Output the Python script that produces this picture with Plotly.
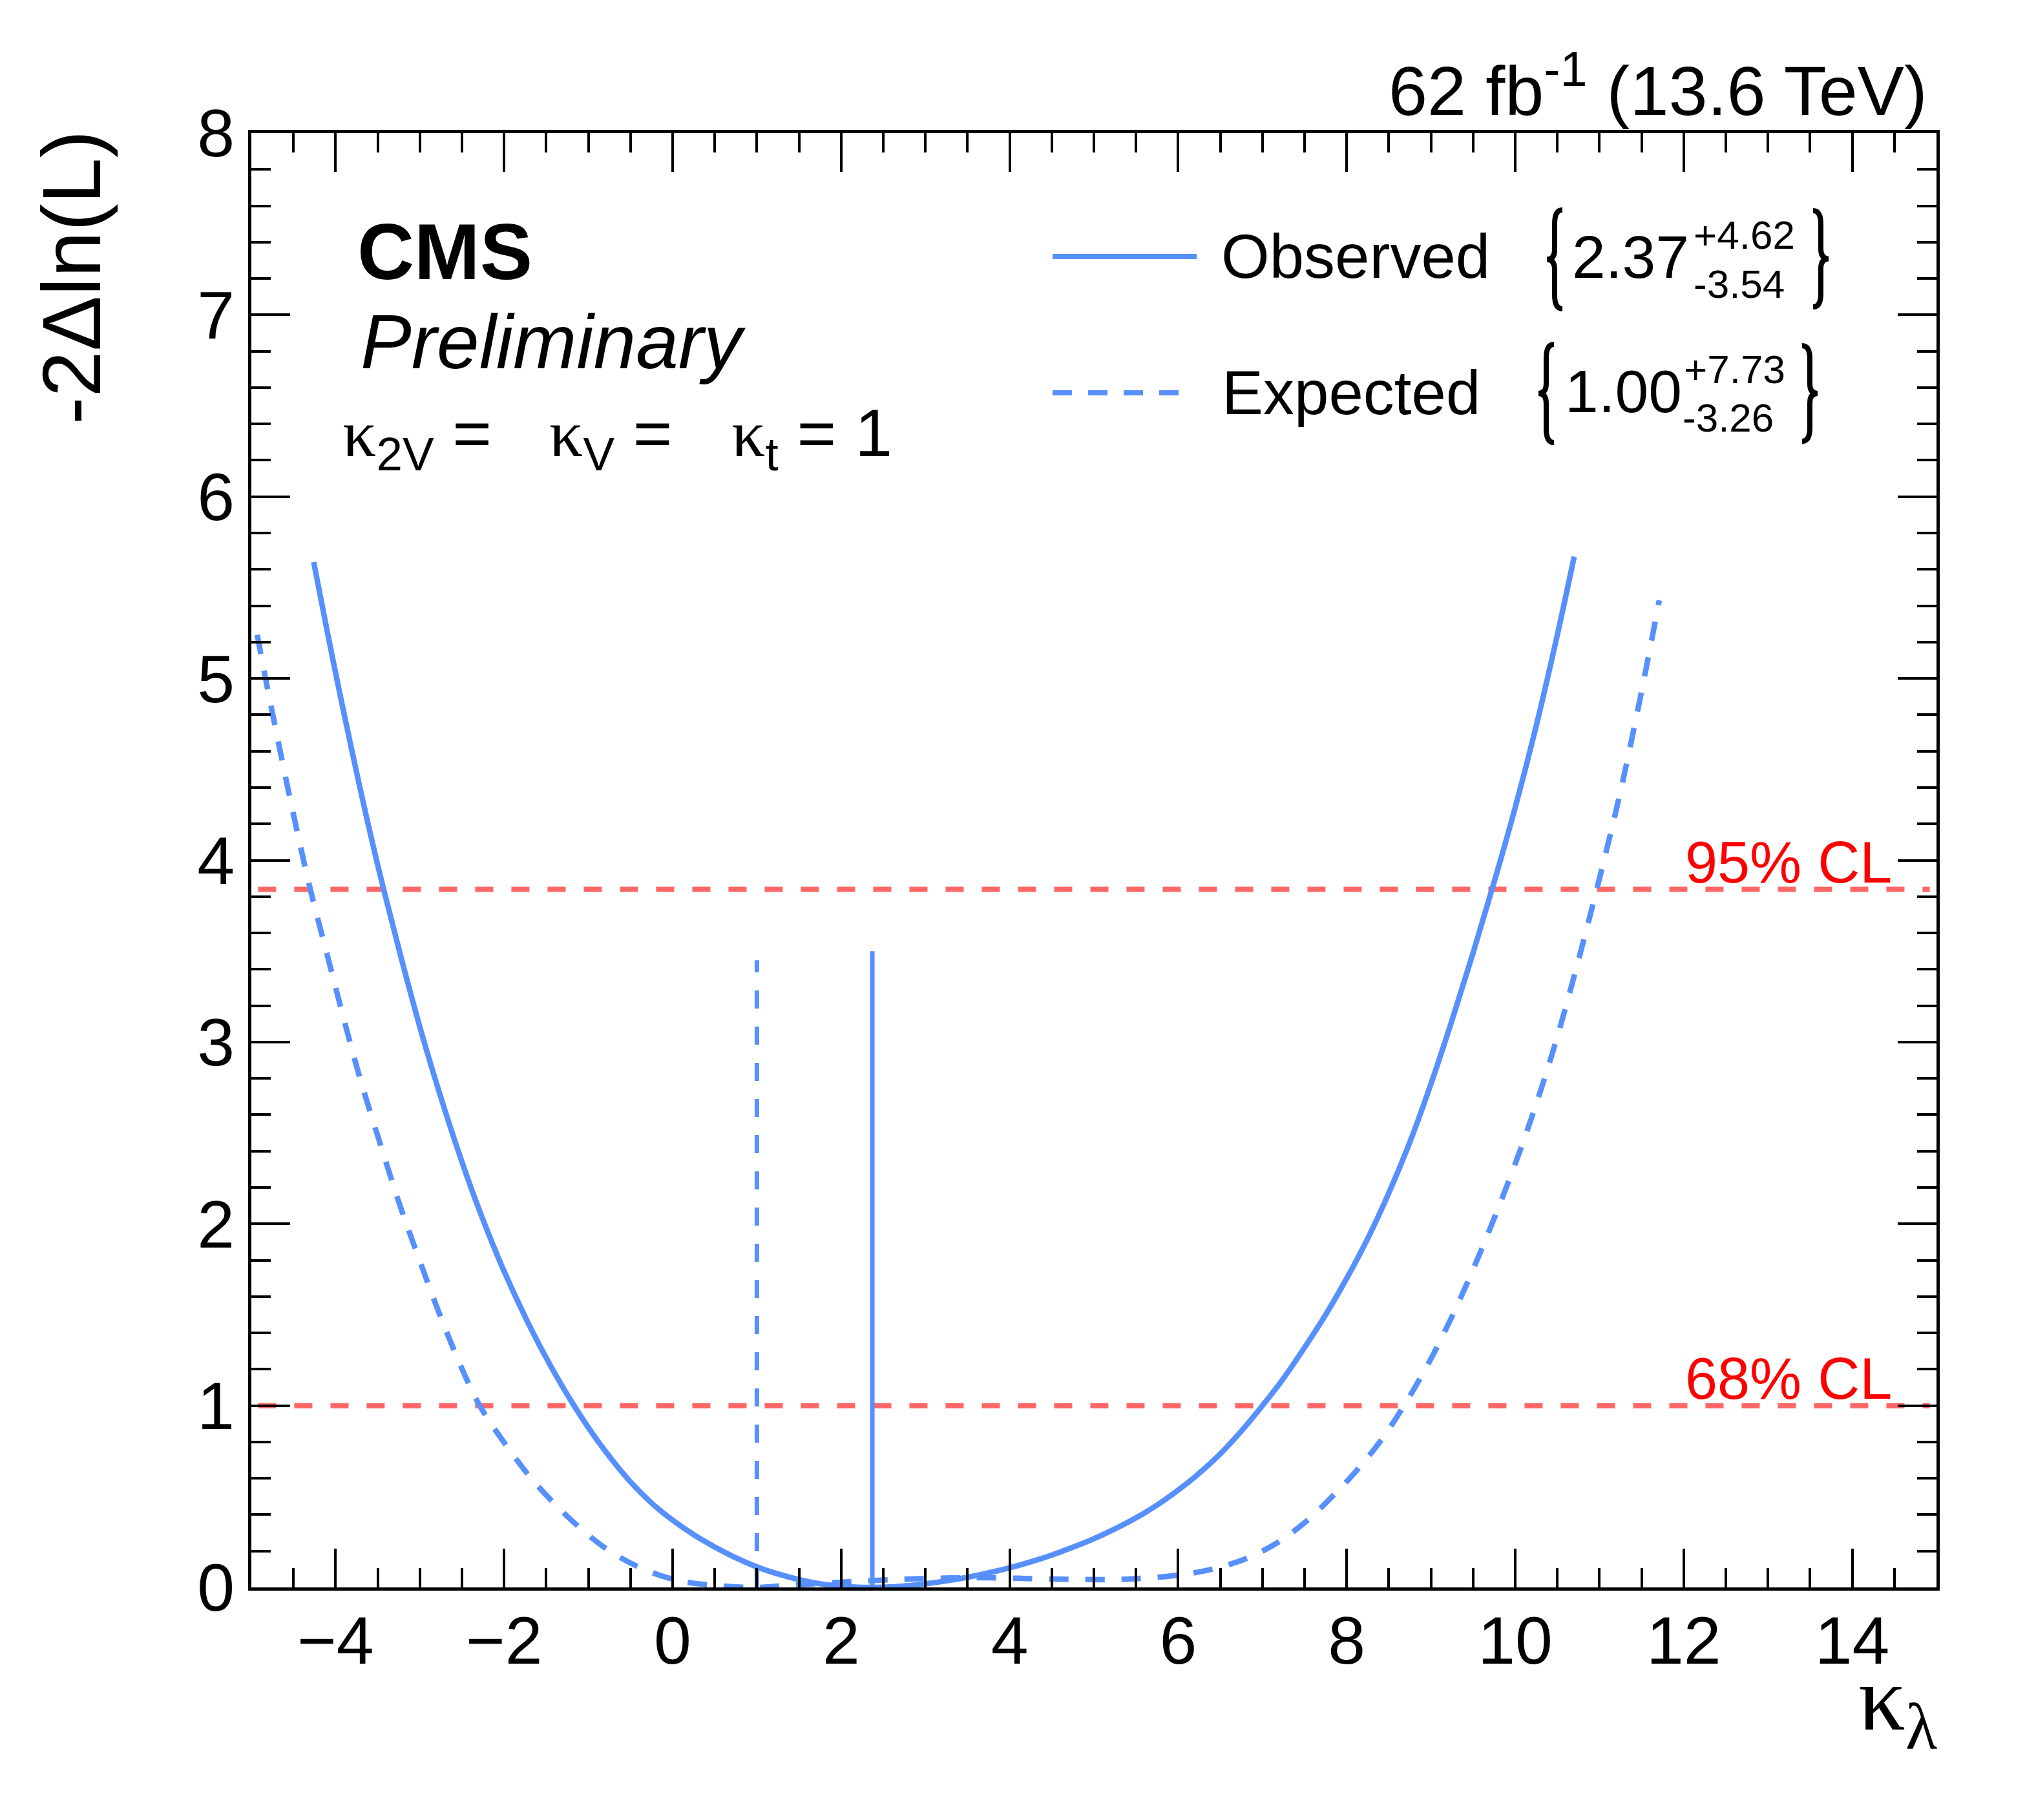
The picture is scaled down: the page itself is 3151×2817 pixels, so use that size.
import plotly.graph_objects as go

# likelihood scan, kappa_lambda
obs_x = [-4.26, -4.10, -3.96, -3.81, -3.61, -3.43, -3.22, -2.98, -2.74, -2.50,
         -2.29, -2.02, -1.71, -1.45, -1.17, -0.88, -0.49, -0.24, 0.00, 0.25,
         0.49, 0.75, 1.00, 1.25, 1.50, 1.75, 2.00, 2.20, 2.37, 2.60, 2.83,
         3.00, 3.25, 3.50, 3.75, 4.00, 4.25, 4.50, 4.75, 5.00, 5.25, 5.50,
         5.75, 6.00, 6.25, 6.50, 6.75, 7.00, 7.25, 7.50, 7.75, 8.00, 8.25,
         8.50, 8.75, 9.00, 9.25, 9.50, 9.75, 10.00, 10.25, 10.50, 10.70]
obs_y = [5.64, 5.26, 4.94, 4.61, 4.19, 3.84, 3.46, 3.05, 2.68, 2.34,
         2.07, 1.76, 1.45, 1.22, 1.00, 0.80, 0.575, 0.46, 0.37, 0.29,
         0.225, 0.163, 0.113, 0.074, 0.043, 0.020, 0.007, 0.001, 0.0, 0.003, 0.011,
         0.02, 0.036, 0.056, 0.08, 0.108, 0.141, 0.178, 0.221, 0.268, 0.322, 0.383,
         0.453, 0.535, 0.628, 0.735, 0.86, 1.00, 1.15, 1.32, 1.50, 1.70, 1.92,
         2.17, 2.45, 2.77, 3.12, 3.49, 3.88, 4.29, 4.74, 5.24, 5.67]

exp_x = [-4.93, -4.84, -4.64, -4.49, -4.30, -4.10, -3.91, -3.71, -3.47, -3.25,
         -3.02, -2.73, -2.44, -2.29, -2.05, -1.66, -1.27, -0.98, -0.68, -0.29,
         0.10, 0.54, 1.00, 1.38, 1.75, 2.15, 2.63, 3.09, 3.49, 3.93, 4.36,
         4.89, 5.22, 5.46, 5.90, 6.34, 6.78, 7.17, 7.51, 7.85, 8.15, 8.44,
         8.68, 8.98, 9.27, 9.51, 9.75, 10.00, 10.25, 10.50, 10.75, 11.00,
         11.25, 11.50, 11.71]
exp_y = [5.24, 5.02, 4.56, 4.23, 3.84, 3.48, 3.14, 2.80, 2.44, 2.12,
         1.82, 1.46, 1.14, 1.00, 0.83, 0.59, 0.40, 0.28, 0.18, 0.09,
         0.035, 0.01, 0.0, 0.012, 0.022, 0.033, 0.043, 0.05, 0.053, 0.052, 0.047,
         0.044, 0.043, 0.047, 0.062, 0.094, 0.154, 0.244, 0.36, 0.51, 0.66, 0.83,
         1.00, 1.24, 1.51, 1.76, 2.03, 2.33, 2.66, 3.03, 3.45, 3.90,
         4.38, 4.93, 5.43]

# best fit values and markers
obs_best = 2.37
obs_err = ["+4.62", "-3.54"]
exp_best = 1.00
exp_err = ["+7.73", "-3.26"]
obs_mark_top = 3.50
exp_mark_top = 3.45

cl_levels = [1.0, 3.84]
cl_names = ["68% CL", "95% CL"]
cl_xspan = [-4.92, 14.92]

x_ticks = [-4, -2, 0, 2, 4, 6, 8, 10, 12, 14]
y_ticks = [0, 1, 2, 3, 4, 5, 6, 7, 8]

BLUE = "#5790fc"
FONT = "Liberation Sans"
W, H = 3151, 2817
L, R, T, B = 381, 2989, 198, 2449  # plot frame in pixels


def px(x):
    return (x - L) / (R - L)


def py(y):
    return (B - y) / (B - T)


fig = go.Figure()

for lev in cl_levels:
    fig.add_trace(go.Scatter(x=cl_xspan, y=[lev, lev], mode="lines",
                             line=dict(color="#ff6666", width=8, dash="28px,28px"),
                             hoverinfo="skip", showlegend=False))

fig.add_trace(go.Scatter(x=exp_x, y=exp_y, mode="lines",
                         line=dict(color=BLUE, width=8.5, dash="30px,26px",
                                   shape="spline", smoothing=1.0),
                         showlegend=False))
fig.add_trace(go.Scatter(x=obs_x, y=obs_y, mode="lines",
                         line=dict(color=BLUE, width=8.5, shape="spline", smoothing=1.0),
                         showlegend=False))
fig.add_trace(go.Scatter(x=[exp_best, exp_best], y=[0, exp_mark_top], mode="lines",
                         line=dict(color=BLUE, width=7, dash="28px,28px"),
                         showlegend=False))
fig.add_trace(go.Scatter(x=[obs_best, obs_best], y=[0, obs_mark_top], mode="lines",
                         line=dict(color=BLUE, width=7), showlegend=False))

axis_common = dict(showline=True, linecolor="black", linewidth=5, mirror="ticks",
                   ticks="inside", ticklen=60, tickwidth=4, tickcolor="black",
                   showgrid=False, zeroline=False,
                   tickfont=dict(family=FONT, size=104, color="black"))

fig.update_xaxes(range=[-5, 15], tickvals=x_ticks, ticklabelstandoff=-12,
                 minor=dict(dtick=0.5, ticks="inside", ticklen=30, tickwidth=4,
                            tickcolor="black", showgrid=False),
                 **axis_common)
fig.update_yaxes(range=[0, 8], tickvals=y_ticks,
                 minor=dict(dtick=0.2, ticks="inside", ticklen=30, tickwidth=4,
                            tickcolor="black", showgrid=False),
                 **axis_common)

ann = []


def text(s, x, y, size, xa="left", ya="middle", color="black", family=FONT, angle=0):
    ann.append(dict(text=s, x=px(x), y=py(y), xref="paper", yref="paper",
                    xanchor=xa, yanchor=ya, showarrow=False, textangle=angle,
                    font=dict(family=family, size=size, color=color)))


text("62 fb<sup>-1</sup> (13.6 TeV)", 2977, 125, 108, xa="right")
text("<b>CMS</b>", 543, 382, 122)
text("<i>Preliminary</i>", 548, 521, 118)
KAPPA = '<span style="font-family:Liberation Serif">κ</span>'
text(KAPPA + "<sub>2V</sub> =", 520, 670, 104)
text(KAPPA + "<sub>V</sub> =", 840, 670, 104)
text(KAPPA + "<sub>t</sub> = 1", 1122, 670, 104)

# y and x axis titles
text("-2Δln(L)", 103, 422, 128, xa="center", angle=-90)
text("κ<sub>λ</sub>", 2992, 2630, 145, xa="right", family="Liberation Serif")

# legend
text("Observed", 1880, 389, 96)
text("Expected", 1881, 600, 96)
text(f"{obs_best:.2f}", 2423, 390, 93)
text(obs_err[0], 2611, 355, 62)
text(obs_err[1], 2611, 431, 62)
text(f"{exp_best:.2f}", 2412, 598, 93)
text(exp_err[0], 2596, 563, 62)
text(exp_err[1], 2594, 638, 62)

# CL labels
for lev, name in zip(cl_levels, cl_names):
    ypix = B - lev * (B - T) / 8.0
    text(name, 2922, ypix - 11 - 31, 90, xa="right", color="#ff0000")


def brace(xc, y0, y1, w, left=True):
    s = 1 if left else -1
    h = y1 - y0
    ym = (y0 + y1) / 2
    pts = [("M", [(xc + s * w, y0)]),
           ("Q", [(xc, y0), (xc, y0 + 0.14 * h)]),
           ("L", [(xc, ym - 0.1 * h)]),
           ("Q", [(xc, ym), (xc - s * w, ym)]),
           ("Q", [(xc, ym), (xc, ym + 0.1 * h)]),
           ("L", [(xc, y1 - 0.14 * h)]),
           ("Q", [(xc, y1), (xc + s * w, y1)])]
    path = " ".join(c + " " + " ".join(f"{px(a):.5f},{py(b):.5f}" for a, b in p)
                    for c, p in pts)
    return dict(type="path", xref="paper", yref="paper", path=path,
                line=dict(color="black", width=8))


shapes = [
    dict(type="line", xref="paper", yref="paper", x0=px(1621), x1=px(1844),
         y0=py(389), y1=py(389), line=dict(color=BLUE, width=8)),
    dict(type="line", xref="paper", yref="paper", x0=px(1621), x1=px(1818),
         y0=py(600), y1=py(600), line=dict(color=BLUE, width=8, dash="30px,25px")),
    brace(2398, 317, 470, 12, left=True),
    brace(2810, 318, 467, 12, left=False),
    brace(2385, 525, 677, 12, left=True),
    brace(2793, 527, 675, 12, left=False),
]

fig.update_layout(width=W, height=H, margin=dict(l=L, r=W - R, t=T, b=H - B),
                  plot_bgcolor="white", paper_bgcolor="white",
                  annotations=ann, shapes=shapes, showlegend=False)

fig.write_html("out.html")
